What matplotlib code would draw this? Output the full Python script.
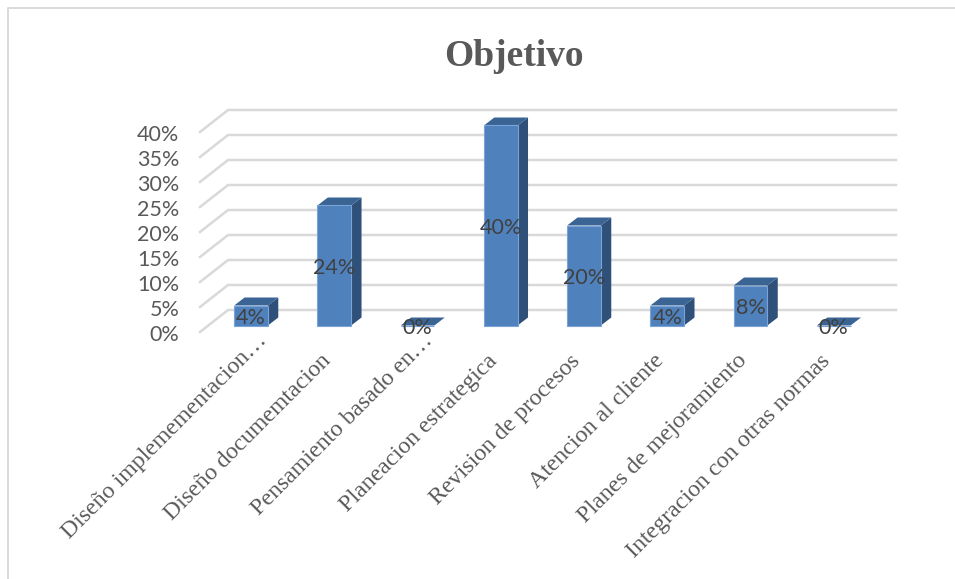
import matplotlib
matplotlib.use('Agg')
import matplotlib.pyplot as plt
from matplotlib.lines import Line2D
from matplotlib.patches import Polygon
from matplotlib.transforms import ScaledTranslation

categories = ['Diseño implemementacion…', 'Diseño documemtacion', 'Pensamiento basado en…',
              'Planeacion estrategica', 'Revision de procesos', 'Atencion al cliente',
              'Planes de mejoramiento', 'Integracion con otras normas']
values = [4, 24, 0, 40, 20, 4, 8, 0]
y_ticks = [0, 5, 10, 15, 20, 25, 30, 35, 40]

W, H = 955, 579
fig = plt.figure(figsize=(W / 100, H / 100), dpi=100, facecolor='white')

# plot box in pixels, the limits make one category 83.25 px and 1% 5 px
left, right, top, bottom = 200, 896, 110, 332
ax = fig.add_axes([left / W, 1 - bottom / H, (right - left) / W, (bottom - top) / H])
ax.set_xlim(-0.613, 7.748)
ax.set_ylim(-1.3, 43.1)
ax.patch.set_visible(False)
for s in ax.spines.values():
    s.set_visible(False)

# 3d look: depth of the floor and depth of the bars, in data units
floor_dx, floor_dy = 0.337, 4.4
wall_x = -0.613 + floor_dx
bar_w = 0.405
depth_x, depth_y = 0.125, 1.6

# gridlines, back wall plus the slanted part on the left
for v in y_ticks:
    ax.plot([-0.613, wall_x, 7.748], [v - 1.3, v - 1.3 + floor_dy, v - 1.3 + floor_dy],
            color='#d9d9d9', lw=1.8, zorder=1, clip_on=False, solid_joinstyle='miter')

# bars
x = list(range(len(categories)))
ax.bar(x, values, width=bar_w, color='#4f81bd', edgecolor='#7aa3d6', linewidth=0.8, zorder=3)
for i, v in zip(x, values):
    x0, x1 = i - bar_w / 2, i + bar_w / 2
    ax.add_patch(Polygon([(x1, 0), (x1 + depth_x, depth_y), (x1 + depth_x, v + depth_y), (x1, v)],
                         facecolor='#2f5078', edgecolor='none', zorder=2.5, clip_on=False))
    ax.add_patch(Polygon([(x0, v), (x1, v), (x1 + depth_x, v + depth_y), (x0 + depth_x, v + depth_y)],
                         facecolor='#3a6494', edgecolor='none', zorder=2.6, clip_on=False))
    ax.text(i, v / 2 - 0.6, f'{v}%', ha='center', va='center', fontsize=15.5, color='#404040',
            family='Lato', zorder=5)

# ticks
ax.set_yticks([v - 1.3 for v in y_ticks])
ax.set_yticklabels([f'{v}%' for v in y_ticks], fontsize=15.5, color='#595959', family='Lato')
ax.set_xticks(x)
ax.set_xticklabels(categories, rotation=45, ha='right', rotation_mode='anchor',
                   fontsize=17.2, color='#595959', family='Liberation Serif')
ax.tick_params(axis='y', length=0, pad=15)
ax.tick_params(axis='x', length=0, pad=14)

# labels sit left of the tick, the cut ones run further up along the slant
for t in ax.get_xticklabels():
    dx, dy = -14, 1
    if t.get_text().endswith('…'):
        dx, dy = 5, 21
    t.set_transform(t.get_transform() + ScaledTranslation(dx / 100, dy / 100, fig.dpi_scale_trans))
shift_y = ScaledTranslation(0, -1 / 100, fig.dpi_scale_trans)
for t in ax.get_yticklabels():
    t.set_transform(t.get_transform() + shift_y)

# title
fig.text(514 / W, 1 - 56 / H, 'Objetivo', ha='center', va='center', fontsize=27,
         fontweight='bold', color='#595959', family='Liberation Serif')

# chart border, only top and left are in the picture
fig.add_artist(Line2D([8 / W, 8 / W, 1], [0, 1 - 8 / H, 1 - 8 / H], color='#d9d9d9', lw=1.4))

fig.savefig('out.png', dpi=100)
plt.close(fig)
